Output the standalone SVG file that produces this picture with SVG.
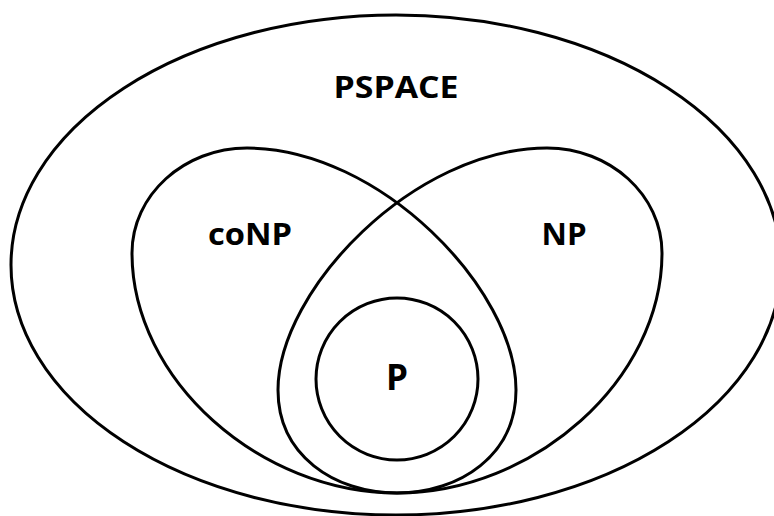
<svg xmlns="http://www.w3.org/2000/svg" width="774" height="516" viewBox="0 0 774 516">
<style>
.set{fill:none;stroke:#000;stroke-width:3}
.lbl{font-family:"Open Sans","Noto Sans","Liberation Sans",sans-serif;font-weight:bold;fill:#000;text-anchor:middle}
</style>
<rect width="774" height="516" fill="#fff"/>
<g id="pspace">
<ellipse class="set" cx="396" cy="265" rx="385" ry="250"/>
<text class="lbl" x="396" y="98" font-size="31" textLength="125" lengthAdjust="spacingAndGlyphs">PSPACE</text>
</g>
<g id="conp">
<path class="set" d="M247,148 C184,148 132,195 132,253 C132,380 260,493 397,493 C460,493 516,455 516,390 C516,290 380,148 247,148 Z"/>
<text class="lbl" x="250" y="245" font-size="31" textLength="84" lengthAdjust="spacingAndGlyphs">coNP</text>
</g>
<g id="np">
<path class="set" d="M547,148 C610,148 662,195 662,253 C662,380 534,493 397,493 C334,493 278,455 278,390 C278,290 414,148 547,148 Z"/>
<text class="lbl" x="564" y="245" font-size="31" textLength="45" lengthAdjust="spacingAndGlyphs">NP</text>
</g>
<g id="p">
<ellipse class="set" cx="397" cy="379" rx="81" ry="81"/>
<text class="lbl" x="397" y="390" font-size="35">P</text>
</g>
<g id="connectors"/>
</svg>
